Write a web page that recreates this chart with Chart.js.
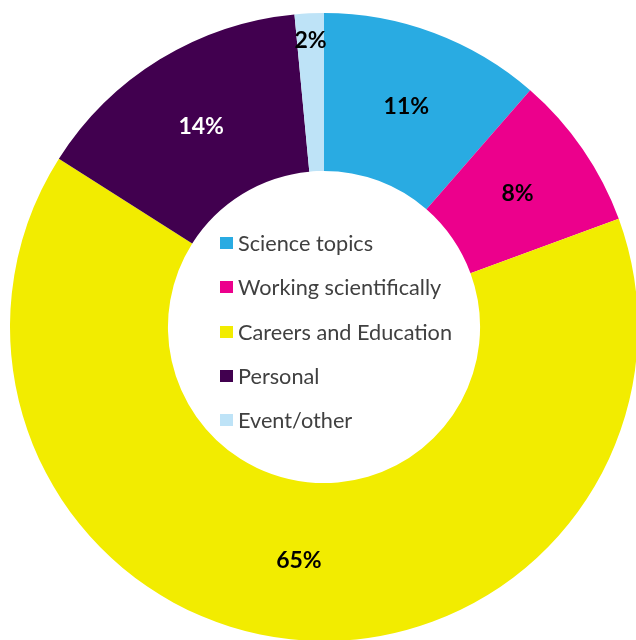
<!DOCTYPE html>
<html>
<head>
<meta charset="utf-8">
<script src="https://cdn.jsdelivr.net/npm/chart.js@4/dist/chart.umd.min.js"></script>
<style>
  html, body { margin: 0; padding: 0; background: #fff; overflow: hidden; }
  body { width: 636px; height: 640px; position: relative; }
  #wrap { position: absolute; left: 9.5px; top: 13px; width: 628px; height: 628px; }
  #legend { position: absolute; left: 220px; top: 230px; font-family: Lato, "Open Sans", sans-serif; font-size: 21.7px; color: #404040; }
  #legend .row { height: 44.3px; display: flex; align-items: flex-start; white-space: nowrap; }
  #legend .box { width: 12.5px; height: 12px; margin-top: 7px; margin-right: 5.5px; }
  #legend .txt { line-height: 26px; }
</style>
</head>
<body>
<div id="wrap"><canvas id="myChart"></canvas></div>
<div id="legend"></div>
<script>
// categories, shares and the printed labels
const categories = ['Science topics', 'Working scientifically', 'Careers and Education', 'Personal', 'Event/other']
const shares = [11.4, 8.0, 64.6, 14.5, 1.5]
const pctLabels = ['11%', '8%', '65%', '14%', '2%']
const colors = ['#29ABE2', '#EC008C', '#F2EC00', '#41004F', '#BEE3F7']
const labelColors = ['#000', '#000', '#000', '#fff', '#000']

// percentages drawn at the middle of each slice
const sliceLabels = {
    id: 'sliceLabels',
    afterDatasetsDraw(chart) {
        const ctx = chart.ctx
        const meta = chart.getDatasetMeta(0)
        ctx.save()
        ctx.font = 'bold 23px Lato, "Open Sans", sans-serif'
        ctx.textAlign = 'center'
        ctx.textBaseline = 'middle'
        meta.data.forEach((arc, i) => {
            const p = arc.getProps(['x', 'y', 'startAngle', 'endAngle', 'innerRadius', 'outerRadius'], true)
            const mid = (p.startAngle + p.endAngle) / 2
            // thin slices get their label pushed towards the rim
            const f = shares[i] < 5 ? 0.83 : 0.5
            const r = p.innerRadius + (p.outerRadius - p.innerRadius) * f
            ctx.fillStyle = labelColors[i]
            ctx.fillText(pctLabels[i], p.x + Math.cos(mid) * r, p.y + Math.sin(mid) * r)
        })
        ctx.restore()
    }
}

new Chart(document.getElementById('myChart'), {
    type: 'doughnut',
    data: {
        labels: categories,
        datasets: [{
            data: shares,
            backgroundColor: colors,
            borderWidth: 0
        }]
    },
    options: {
        responsive: true,
        maintainAspectRatio: false,
        animation: false,
        cutout: '49.7%',
        layout: { padding: 0 },
        plugins: {
            legend: { display: false },
            tooltip: { enabled: false }
        }
    },
    plugins: [sliceLabels]
})

const legend = document.getElementById('legend')
categories.forEach((name, i) => {
    const row = document.createElement('div')
    row.className = 'row'
    row.innerHTML = `<span class="box" style="background:${colors[i]}"></span><span class="txt">${name}</span>`
    legend.appendChild(row)
})
</script>
</body>
</html>
